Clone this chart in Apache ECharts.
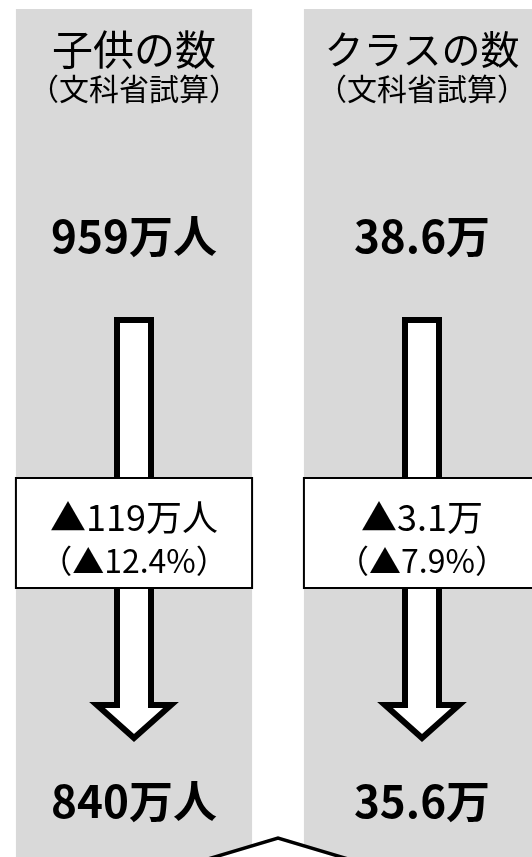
<!DOCTYPE html>
<html>
<head>
<meta charset="utf-8">
<script src="https://cdn.jsdelivr.net/npm/echarts@6/dist/echarts.min.js"></script>
<style>
html,body{margin:0;padding:0;background:#fff;}
#chart{width:532px;height:857px;}
</style>
</head>
<body>
<div id="chart"></div>
<script>
// ---- data ----
const categories = ['子供の数', 'クラスの数'];
const subtitles = ['（文科省試算）', '（文科省試算）'];
const startValues = [959, 38.6];
const endValues = [840, 35.6];
const units = ['万人', '万'];
const changeValues = [119, 3.1];
const changePercents = [12.4, 7.9];

// ---- layout (vertical layout units on a hidden 0..857 axis) ----
const LAYOUT = {
  colTop: 9, colBottom: 870,
  titleY: 49, subY: 89, startY: 236,
  shaftTop: 320, headTop: 705, tip: 738,
  boxTop: 478, boxBottom: 588,
  changeY: 517, pctY: 561, endY: 801,
  chevronPeak: 838
};
const FONT = "'Noto Sans CJK JP', 'Noto Sans', sans-serif";

const chart = echarts.init(document.getElementById('chart'), null, {renderer: 'canvas'});

function colItem(params, api) {
  const i = api.value(0);
  const cx = api.coord([i, 0])[0];
  const unit = api.size([1, 0])[0];
  const colW = unit * 0.82;
  const Y = v => api.coord([i, v])[1];
  const sh = 17, hh = 37;
  const txt = (text, y, size, weight) => ({
    type: 'text',
    style: {
      text: text, x: cx, y: Y(y),
      align: 'center', verticalAlign: 'middle',
      textAlign: 'center', textVerticalAlign: 'middle',
      fontSize: size, fontFamily: FONT, fontWeight: weight || 'normal',
      fill: '#000'
    }
  });
  return {
    type: 'group',
    children: [
      {type: 'rect', shape: {x: cx - colW / 2, y: Y(LAYOUT.colTop), width: colW, height: Y(LAYOUT.colBottom) - Y(LAYOUT.colTop)},
       style: {fill: '#d9d9d9'}},
      txt(categories[i], LAYOUT.titleY, i === 0 ? 41 : 39),
      txt(subtitles[i], LAYOUT.subY, 30),
      txt(startValues[i] + units[i], LAYOUT.startY, 44, 'bold'),
      {type: 'polygon', shape: {points: [
         [cx - sh, Y(LAYOUT.shaftTop)], [cx + sh, Y(LAYOUT.shaftTop)],
         [cx + sh, Y(LAYOUT.headTop)], [cx + hh, Y(LAYOUT.headTop)],
         [cx, Y(LAYOUT.tip)],
         [cx - hh, Y(LAYOUT.headTop)], [cx - sh, Y(LAYOUT.headTop)]
       ]},
       style: {fill: '#fff', stroke: '#000', lineWidth: 6, lineJoin: 'miter', miterLimit: 10}},
      {type: 'rect', shape: {x: cx - colW / 2, y: Y(LAYOUT.boxTop), width: colW, height: Y(LAYOUT.boxBottom) - Y(LAYOUT.boxTop)},
       style: {fill: '#fff', stroke: '#000', lineWidth: 2}},
      txt('▲' + changeValues[i] + units[i], LAYOUT.changeY, 36),
      txt('（▲' + changePercents[i] + '%）', LAYOUT.pctY, 32),
      txt(endValues[i] + units[i], LAYOUT.endY, 44, 'bold')
    ]
  };
}

function chevronItem(params, api) {
  const x = api.value(0);
  const p = api.coord([x, LAYOUT.chevronPeak]);
  const w = 280, s = 0.3;
  return {
    type: 'polygon',
    shape: {points: [[p[0] - w, p[1] + w * s], [p[0], p[1]], [p[0] + w, p[1] + w * s]]},
    style: {fill: '#fff', stroke: '#000', lineWidth: 3.5, lineJoin: 'miter'}
  };
}

chart.setOption({
  animation: false,
  backgroundColor: '#fff',
  grid: {left: 0, right: 0, top: 0, bottom: 0},
  xAxis: {type: 'value', min: -0.46528, max: 1.38194, show: false},
  yAxis: {type: 'value', min: 0, max: 857, inverse: true, show: false},
  series: [
    {type: 'custom', renderItem: colItem, clip: false, z: 2,
     data: categories.map((c, i) => [i])},
    {type: 'custom', renderItem: chevronItem, clip: false, z: 3,
     data: [[0.5]]}
  ]
});
</script>
</body>
</html>
